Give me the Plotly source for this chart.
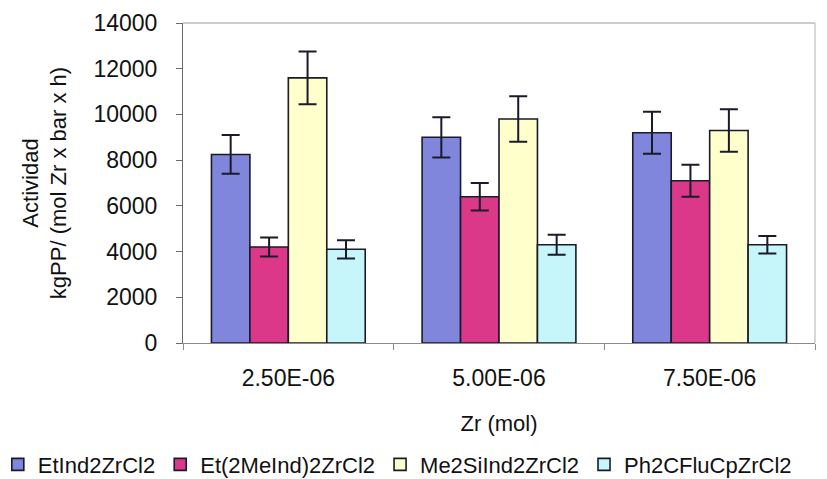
import plotly.graph_objects as go

# Zr loading (mol) on the category axis
zr_labels = ["2.50E-06", "5.00E-06", "7.50E-06"]

# Catalyst series: activity in kgPP / (mol Zr x bar x h) and its error
series_names = ["EtInd2ZrCl2", "Et(2MeInd)2ZrCl2", "Me2SiInd2ZrCl2", "Ph2CFluCpZrCl2"]
etind_vals = [8250, 9000, 9200]
etind_err = [850, 880, 920]
et2meind_vals = [4200, 6400, 7100]
et2meind_err = [420, 600, 700]
me2siind_vals = [11600, 9800, 9300]
me2siind_err = [1150, 1000, 930]
ph2cflucp_vals = [4100, 4300, 4300]
ph2cflucp_err = [400, 440, 380]

series_vals = [etind_vals, et2meind_vals, me2siind_vals, ph2cflucp_vals]
series_errs = [etind_err, et2meind_err, me2siind_err, ph2cflucp_err]
series_colors = ["#7f86dc", "#dc3889", "#ffffcc", "#c6f6fa"]

FONT = "Liberation Sans, Arial, sans-serif"
INK = "#111111"

fig = go.Figure()
for name, vals, errs, col in zip(series_names, series_vals, series_errs, series_colors):
    fig.add_trace(go.Bar(
        name=name,
        x=zr_labels,
        y=vals,
        marker=dict(color=col, line=dict(color="#1a1a2a", width=1.6)),
        error_y=dict(type="data", array=errs, visible=True,
                     color="#1a1a2a", thickness=2, width=9),
    ))

fig.update_layout(
    width=827, height=479,
    margin=dict(l=183, r=12, t=23, b=136, autoexpand=False),
    paper_bgcolor="white", plot_bgcolor="white",
    barmode="group", bargap=0.27, bargroupgap=0,
    font=dict(family=FONT, size=22, color=INK),
    showlegend=True,
    legend=dict(
        orientation="h",
        x=-0.293, xanchor="left",
        y=-0.38, yanchor="middle",
        font=dict(family=FONT, size=22, color=INK),
        itemclick=False, itemdoubleclick=False,
        traceorder="normal",
    ),
)

fig.update_xaxes(
    type="category",
    showline=True, linecolor="#8a8a8a", linewidth=1,
    ticks="outside", tickson="boundaries", ticklen=6, tickcolor="#8a8a8a",
    tickfont=dict(family=FONT, size=23, color=INK),
    ticklabelstandoff=14,
    showgrid=False, zeroline=False,
    title=dict(text="Zr (mol)", font=dict(family=FONT, size=22, color=INK), standoff=26),
)

fig.update_yaxes(
    range=[0, 14000], dtick=2000, tickformat="d",
    showline=True, linecolor="#6a6a6a", linewidth=1,
    ticks="outside", ticklen=6, tickcolor="#6a6a6a",
    tickfont=dict(family=FONT, size=23, color=INK),
    ticklabelstandoff=14,
    showgrid=False, zeroline=False,
    title=dict(text="Actividad<br>kgPP/ (mol Zr x bar x h)",
               font=dict(family=FONT, size=22, color=INK), standoff=20),
)

# light frame along the top and right of the plotting area
fig.add_shape(type="line", xref="paper", yref="paper", x0=0, x1=1, y0=1, y1=1,
              line=dict(color="#9a9a9a", width=1))
fig.add_shape(type="line", xref="paper", yref="paper", x0=1, x1=1, y0=0, y1=1,
              line=dict(color="#b0b0b0", width=1))

fig.write_html("out.html")
